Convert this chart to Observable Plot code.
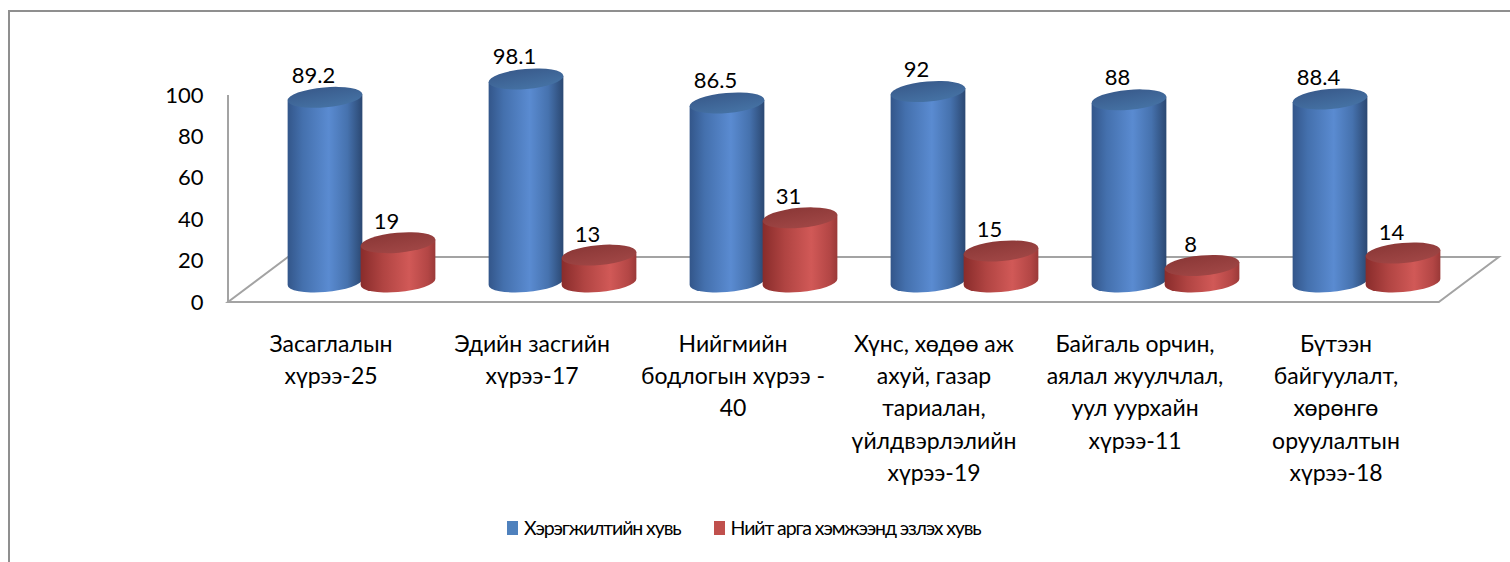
<!DOCTYPE html>
<html><head><meta charset="utf-8">
<script src="https://cdn.jsdelivr.net/npm/d3@7"></script>
<script src="https://cdn.jsdelivr.net/npm/@observablehq/plot@0.6"></script>
<style>
body{margin:0;background:#fff;font-family:Lato,"Noto Sans",sans-serif;overflow:hidden;width:1510px;height:562px}
#frame{position:absolute;left:8px;top:10px;width:1600px;height:700px;border:2px solid #8f8f8f;box-sizing:border-box}
#chart{position:absolute;left:0;top:0}
#legend{position:absolute;top:516px;left:507px;display:flex;align-items:center;gap:33px;font-size:19.5px;letter-spacing:-1.1px;color:#000;white-space:nowrap}
.item{display:flex;align-items:center;gap:6px}
.sw{width:11px;height:14px;display:inline-block}
</style></head><body>
<div id="frame"></div><div id="chart"></div><div id="legend"></div>
<script>
const categories = [
  "Засаглалын\nхүрээ-25",
  "Эдийн засгийн\nхүрээ-17",
  "Нийгмийн\nбодлогын хүрээ -\n40",
  "Хүнс, хөдөө аж\nахуй, газар\nтариалан,\nүйлдвэрлэлийн\nхүрээ-19",
  "Байгаль орчин,\nаялал жуулчлал,\nуул уурхайн\nхүрээ-11",
  "Бүтээн\nбайгуулалт,\nхөрөнгө\nоруулалтын\nхүрээ-18"
];
const seriesNames = ["Хэрэгжилтийн хувь", "Нийт арга хэмжээнд эзлэх хувь"];
const implementation = [89.2, 98.1, 86.5, 92, 88, 88.4];
const share = [19, 13, 31, 15, 8, 14];
const yTicks = [0, 20, 40, 60, 80, 100];
const seriesColors = ["#4f81bd", "#c0504d"];

const data = categories.flatMap((c, i) => [
  {category: c, series: 0, value: implementation[i]},
  {category: c, series: 1, value: share[i]}
]);

const gradients = [
  {body: [[0,"#33568a"],[0.2,"#4470ad"],[0.55,"#5a8bd1"],[0.8,"#4672ae"],[1,"#2b4872"]],
   top: [[0,"#38598a"],[1,"#4470a2"]]},
  {body: [[0,"#892c2b"],[0.3,"#b04442"],[0.65,"#d15957"],[0.9,"#b34645"],[1,"#9a3938"]],
   top: [[0,"#8a3736"],[1,"#9e4544"]]}
];

const depthX = 31, depthY = -20, floorDX = 60, floorDY = -45;

function floor(index, scales, values, dims) {
  const y0 = scales.y(0);
  const x0 = dims.marginLeft, x1 = dims.width - dims.marginRight;
  const g = d3.create("svg:g");
  g.append("path")
    .attr("d", `M${x0},${y0}L${x1},${y0}L${x1+floorDX},${y0+floorDY}L${x0+floorDX},${y0+floorDY}Z`)
    .attr("fill", "none").attr("stroke", "#a3a3a3").attr("stroke-width", 2);
  g.append("line").attr("x1", x0).attr("x2", x0)
    .attr("y1", y0).attr("y2", scales.y(100))
    .attr("stroke", "#a3a3a3").attr("stroke-width", 2);
  return g.node();
}

function cylinders(index, scales, values, dims) {
  const g = d3.create("svg:g");
  const defs = g.append("defs");
  gradients.forEach((gr, s) => {
    const b = defs.append("linearGradient").attr("id", "body" + s).attr("x1", 0).attr("x2", 1).attr("y1", 0).attr("y2", 0);
    gr.body.forEach(([o, c]) => b.append("stop").attr("offset", o).attr("stop-color", c));
    const t = defs.append("linearGradient").attr("id", "top" + s).attr("x1", 0).attr("x2", 0.3).attr("y1", 0).attr("y2", 1);
    gr.top.forEach(([o, c]) => t.append("stop").attr("offset", o).attr("stop-color", c));
  });
  const step = scales.x(categories[1]) - scales.x(categories[0]);
  const rx = 37.5, ry = 10, tilt = 5 * Math.PI / 180;
  const ex = Math.sqrt(rx*rx*Math.cos(tilt)**2 + ry*ry*Math.sin(tilt)**2);
  const ey = (rx*rx - ry*ry) * Math.sin(tilt) * Math.cos(tilt) / ex;
  for (const d of data) {
    const gc = scales.x(d.category) + step / 2 + depthX;
    const cx = gc + (d.series === 0 ? -36.5 : 36.5);
    const yTop = scales.y(d.value) + depthY;
    const yBot = scales.y(0) + depthY;
    g.append("path")
      .attr("d", `M${cx-ex},${yTop+ey}L${cx-ex},${yBot+ey}A${rx},${ry} -5 0 0 ${cx+ex},${yBot-ey}L${cx+ex},${yTop-ey}Z`)
      .attr("fill", `url(#body${d.series})`);
    g.append("ellipse").attr("cx", cx).attr("cy", yTop).attr("rx", rx).attr("ry", ry)
      .attr("transform", `rotate(-5 ${cx} ${yTop})`)
      .attr("fill", `url(#top${d.series})`);
  }
  return g.node();
}

const chart = Plot.plot({
  width: 1510,
  height: 500,
  marginTop: 95,
  marginBottom: 198,
  marginLeft: 228,
  marginRight: 71.2,
  style: {fontFamily: "Lato, 'Noto Sans', sans-serif", color: "#000", background: "transparent", overflow: "visible"},
  x: {type: "band", domain: categories, padding: 0},
  y: {domain: [0, 100]},
  marks: [
    floor,
    cylinders,
    Plot.axisY({ticks: yTicks, tickSize: 0, tickPadding: 25, fontSize: 22, tickFormat: d => String(d), label: null}),
    Plot.axisX({tickSize: 0, tickPadding: 26, fontSize: 23, lineHeight: 1.41, label: null}),
    Plot.text(data.filter(d => d.series === 0), {x: "category", y: "value", text: d => String(d.value), dx: depthX - 36.5 - 12, dy: depthY - 22, fontSize: 22, fill: "#000"}),
    Plot.text(data.filter(d => d.series === 1), {x: "category", y: "value", text: d => String(d.value), dx: depthX + 36.5 - 12, dy: depthY - 21, fontSize: 22, fill: "#000"})
  ]
});
document.getElementById("chart").appendChild(chart);

const legend = document.getElementById("legend");
seriesNames.forEach((n, i) => {
  const it = document.createElement("div");
  it.className = "item";
  it.innerHTML = `<span class="sw" style="background:${seriesColors[i]}"></span><span>${n}</span>`;
  legend.appendChild(it);
});
</script>
</body></html>
